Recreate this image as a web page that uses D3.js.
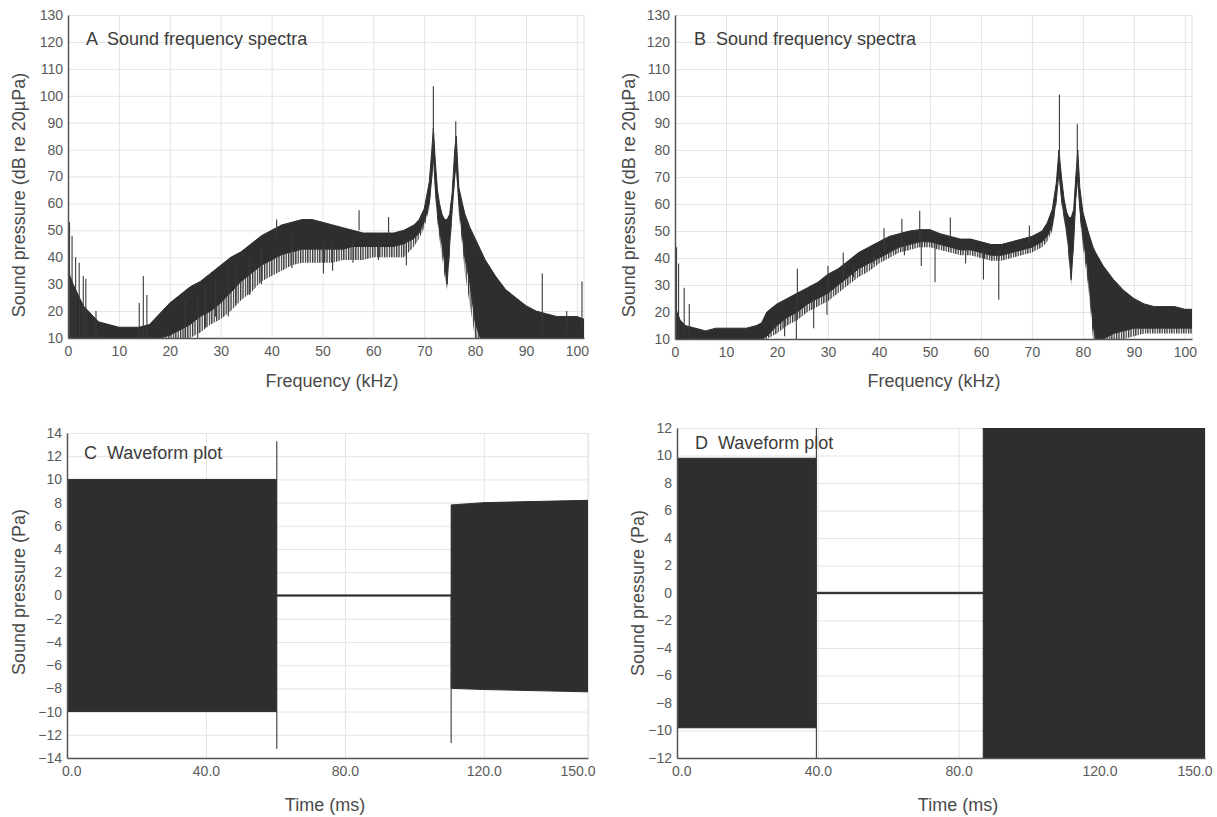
<!DOCTYPE html>
<html>
<head>
<meta charset="utf-8">
<script src="https://cdn.jsdelivr.net/npm/d3@7"></script>
<style>
  body { margin: 0; background: #fff; }
  text { font-family: "Liberation Sans", Arial, sans-serif; }
</style>
</head>
<body>
<svg width="1217" height="817"></svg>
<script>
// ---- data ----
// spectrum A: band envelope (dB re 20µPa); floor = lowest reach of the noisy grass
const specAFreq  = [0, 1, 2, 3, 4, 5, 6, 8, 10, 12, 14, 16, 18, 20, 22, 24, 26, 28, 30, 32, 34, 36, 38, 40, 42, 44, 46, 48, 50, 52, 54, 56, 58, 60, 62, 64, 66, 68, 69, 70, 71, 71.5, 71.8, 72.2, 72.6, 73, 73.5, 74, 74.5, 75, 75.5, 76, 76.3, 76.8, 77.5, 78, 79, 80, 81, 82, 84, 86, 88, 90, 92, 94, 96, 98, 100, 101.4];
const specAUpper = [35, 30, 26, 22, 20, 18, 16, 15, 14, 14, 14, 15, 19, 23, 26, 29, 31, 34, 37, 40, 42, 45, 48, 50, 52, 53, 54, 54, 53, 52, 51, 50, 49, 49, 49, 49, 50, 52, 54, 58, 68, 80, 88, 75, 65, 60, 56, 54, 54, 56, 64, 80, 85, 66, 60, 56, 51, 47, 43, 39, 33, 28, 25, 22, 20, 19, 18, 18, 18, 17];
const specALower = [10, 10, 10, 10, 10, 10, 10, 10, 10, 10, 10, 10, 10, 11, 13, 15, 18, 20, 23, 27, 31, 34, 37, 39, 41, 42, 43, 43, 43, 43, 43, 44, 44, 44, 44, 44, 45, 47, 49, 53, 60, 70, 78, 65, 56, 50, 45, 38, 30, 45, 58, 70, 75, 60, 48, 40, 30, 16, 10, 10, 10, 10, 10, 10, 10, 10, 10, 10, 10, 10];
const specAFloor = [10, 10, 10, 10, 10, 10, 10, 10, 10, 10, 10, 10, 10, 10, 10, 10, 12, 15, 17, 20, 24, 27, 31, 33, 35, 37, 38, 38, 38, 38, 39, 39, 39, 40, 40, 40, 40, 44, 47, 51, 58, 68, 76, 62, 53, 47, 40, 33, 28, 40, 55, 68, 72, 56, 44, 34, 22, 10, 10, 10, 10, 10, 10, 10, 10, 10, 10, 10, 10, 10];
// spectrum A: thin spikes (freq, low end, high end)
const specASpikeFreq = [0.3, 0.8, 1.5, 2.2, 3, 3.5, 5.5, 14, 14.8, 15.5, 41, 57.2, 63, 71.8, 76.2, 93.2, 98, 101, 23, 25.5, 27, 29, 31.5, 33, 35.7, 38, 44, 50.2, 52, 56, 61, 66.5];
const specASpikeLow  = [10, 10, 10, 10, 10, 10, 10, 10, 10, 10, 48, 50, 48, 80, 75, 12, 12, 12, 10, 10, 14, 18, 18, 23, 26, 30, 36, 34, 35, 38, 39, 37];
const specASpikeHigh = [53, 48, 40, 38, 33, 32, 20, 23, 33, 26, 54, 57.5, 55, 103.5, 90.5, 34, 20, 31, 24, 25, 30, 32, 36, 38, 40, 43, 48, 45, 45, 46, 46, 47];

// spectrum B
const specBFreq  = [0, 1, 2, 4, 6, 8, 10, 12, 14, 16, 17, 18, 20, 22, 24, 26, 28, 30, 32, 34, 36, 38, 40, 42, 44, 46, 48, 50, 52, 54, 56, 58, 60, 62, 64, 66, 68, 70, 72, 73, 74, 74.8, 75.3, 75.8, 76.3, 76.8, 77.3, 77.7, 78.2, 78.6, 79, 79.4, 80, 81, 82, 82.5, 84, 86, 88, 90, 92, 94, 96, 98, 100, 101.4];
const specBUpper = [22, 17, 15, 14, 13, 14, 14, 14, 14, 15, 16, 20, 23, 25, 27, 29, 31, 34, 36, 39, 42, 44, 46, 48, 49, 50, 50.5, 50.5, 49, 48, 47, 47, 46, 45, 45, 46, 47, 48, 50, 53, 58, 68, 80, 70, 62, 57, 55, 55, 58, 70, 80, 66, 57, 50, 44, 42, 37, 32, 28, 25, 23, 22, 22, 22, 21, 21];
const specBLower = [10, 10, 10, 10, 10, 10, 10, 10, 10, 10, 10, 11, 15, 18, 20, 23, 25, 27, 30, 33, 36, 38, 40, 42, 44, 45, 46, 46, 45, 44, 43, 43, 42, 41, 41, 42, 43, 44, 46, 48, 52, 62, 72, 62, 56, 50, 42, 32, 46, 62, 70, 58, 48, 35, 15, 10, 10, 12, 13, 14, 14, 14, 14, 14, 14, 14];
const specBFloor = [10, 10, 10, 10, 10, 10, 10, 10, 10, 10, 10, 10, 12, 15, 17, 20, 22, 24, 27, 30, 33, 35, 38, 40, 42, 43, 44, 44, 43, 42, 41, 41, 40, 39, 39, 40, 41, 42, 44, 46, 50, 60, 70, 60, 54, 48, 38, 30, 44, 60, 68, 55, 44, 30, 10, 10, 10, 10, 10, 11, 12, 12, 12, 12, 12, 12];
const specBSpikeFreq = [0.3, 0.7, 1.8, 2.8, 24, 30, 33, 41, 44.5, 48, 54, 69.5, 75.4, 78.9, 21.5, 23.8, 27.2, 29.8, 35, 39, 45, 48.3, 51, 57, 60.5, 63.5];
const specBSpikeLow  = [10, 10, 10, 10, 22, 28, 32, 42, 45, 47, 45, 45, 72, 70, 11, 10, 14, 19, 33, 38, 41, 37, 31, 38, 32, 24.5];
const specBSpikeHigh = [44, 38, 29, 23, 36, 37, 42, 51, 54.5, 57.5, 55, 52, 100.5, 89.5, 18, 22, 26, 30, 38, 41, 46, 48, 47, 45, 44, 43];

// waveform C (Pa)
const waveCTime  = [0, 60.3, 60.3, 110.6, 110.6, 120, 150];
const waveCUpper = [10, 10, 0.05, 0.05, 7.8, 8.0, 8.2];
const waveCLower = [-10, -10, -0.05, -0.05, -8.0, -8.1, -8.3];
const waveCSpikeTime = [60.4, 110.6];
const waveCSpikeLow  = [-13.2, -12.7];
const waveCSpikeHigh = [13.3, 0];

// waveform D (Pa)
const waveDTime  = [0, 39.6, 39.6, 87, 87, 150];
const waveDUpper = [9.8, 9.8, 0.05, 0.05, 12, 12];
const waveDLower = [-9.8, -9.8, -0.05, -0.05, -12, -12];
const waveDSpikeTime = [39.6];
const waveDSpikeLow  = [-12];
const waveDSpikeHigh = [12];

// tick labels
const specXTicks = d3.range(0, 101, 10);
const specYTicks = d3.range(10, 131, 10);
const waveXTicks = [0, 40, 80, 120, 150];
const waveCYTicks = d3.range(-14, 15, 2);
const waveDYTicks = d3.range(-12, 13, 2);

// ---- drawing ----
const svg = d3.select("svg");
const ink = "#2e2e2e";

// vertical hairline texture for the noisy lower fringe of the spectra
svg.append("defs").append("pattern")
    .attr("id", "grass")
    .attr("patternUnits", "userSpaceOnUse")
    .attr("width", 2.4).attr("height", 6)
  .append("rect")
    .attr("width", 1.3).attr("height", 6)
    .attr("fill", "#333");

const panels = [
  {id: "A", title: "A  Sound frequency spectra", xl: "Frequency (kHz)", yl: "Sound pressure (dB re 20µPa)",
   xr: [68, 584], yr: [338, 15], xd: [0, 101.4], yd: [10, 130], xt: specXTicks, yt: specYTicks, xf: d3.format("d"),
   x: specAFreq, hi: specAUpper, lo: specALower, fl: specAFloor, sx: specASpikeFreq, sl: specASpikeLow, sh: specASpikeHigh,
   tx: 86, ty: 45, xlx: 332, xly: 387, ylx: 25, yly: 195},
  {id: "B", title: "B  Sound frequency spectra", xl: "Frequency (kHz)", yl: "Sound pressure (dB re 20µPa)",
   xr: [675, 1192], yr: [339, 15], xd: [0, 101.4], yd: [10, 130], xt: specXTicks, yt: specYTicks, xf: d3.format("d"),
   x: specBFreq, hi: specBUpper, lo: specBLower, fl: specBFloor, sx: specBSpikeFreq, sl: specBSpikeLow, sh: specBSpikeHigh,
   tx: 694, ty: 45, xlx: 934, xly: 387, ylx: 635, yly: 195},
  {id: "C", title: "C  Waveform plot", xl: "Time (ms)", yl: "Sound pressure (Pa)",
   xr: [67, 588], yr: [758, 433], xd: [0, 150], yd: [-14, 14], xt: waveXTicks, yt: waveCYTicks, xf: d3.format(".1f"),
   x: waveCTime, hi: waveCUpper, lo: waveCLower, fl: null, sx: waveCSpikeTime, sl: waveCSpikeLow, sh: waveCSpikeHigh,
   tx: 84, ty: 459, xlx: 325, xly: 811, ylx: 25, yly: 592},
  {id: "D", title: "D  Waveform plot", xl: "Time (ms)", yl: "Sound pressure (Pa)",
   xr: [677, 1205], yr: [758, 428], xd: [0, 150], yd: [-12, 12], xt: waveXTicks, yt: waveDYTicks, xf: d3.format(".1f"),
   x: waveDTime, hi: waveDUpper, lo: waveDLower, fl: null, sx: waveDSpikeTime, sl: waveDSpikeLow, sh: waveDSpikeHigh,
   tx: 695, ty: 449, xlx: 958, xly: 811, ylx: 644, yly: 593}
];

panels.forEach(p => {
  const xScale = d3.scaleLinear().domain(p.xd).range(p.xr);
  const yScale = d3.scaleLinear().domain(p.yd).range(p.yr);
  const g = svg.append("g");

  // grid
  g.append("g")
    .attr("transform", `translate(0, ${p.yr[0]})`)
    .call(d3.axisBottom(xScale).tickValues(p.xt).tickSize(-(p.yr[0] - p.yr[1])).tickFormat(""))
    .call(a => a.selectAll("line").attr("stroke", "#e4e4e4"))
    .call(a => a.select(".domain").remove());
  g.append("g")
    .attr("transform", `translate(${p.xr[0]}, 0)`)
    .call(d3.axisLeft(yScale).tickValues(p.yt).tickSize(-(p.xr[1] - p.xr[0])).tickFormat(""))
    .call(a => a.selectAll("line").attr("stroke", "#e4e4e4"))
    .call(a => a.select(".domain").remove());
  g.append("line")
    .attr("x1", p.xr[1]).attr("x2", p.xr[1]).attr("y1", p.yr[0]).attr("y2", p.yr[1])
    .attr("stroke", "#e4e4e4");

  // data
  g.append("clipPath").attr("id", "clip" + p.id)
    .append("rect")
      .attr("x", p.xr[0]).attr("y", p.yr[1])
      .attr("width", p.xr[1] - p.xr[0]).attr("height", p.yr[0] - p.yr[1]);
  const dg = g.append("g").attr("clip-path", `url(#clip${p.id})`);

  if (p.fl) {
    const grass = d3.area()
      .x((d, i) => xScale(p.x[i]))
      .y0((d, i) => yScale(p.fl[i]))
      .y1((d, i) => yScale(p.lo[i]));
    dg.append("path")
      .attr("d", grass(p.x))
      .attr("fill", "url(#grass)");
  }

  const area = d3.area()
    .x((d, i) => xScale(p.x[i]))
    .y0((d, i) => yScale(p.lo[i]))
    .y1((d, i) => yScale(p.hi[i]));
  dg.append("path")
    .attr("d", area(p.x))
    .attr("fill", ink)
    .attr("stroke", ink)
    .attr("stroke-width", 1)
    .attr("stroke-linejoin", "round");

  dg.selectAll("line.spike").data(p.sx)
    .enter().append("line")
      .attr("class", "spike")
      .attr("x1", d => xScale(d)).attr("x2", d => xScale(d))
      .attr("y1", (d, i) => yScale(p.sl[i]))
      .attr("y2", (d, i) => yScale(p.sh[i]))
      .attr("stroke", "#3a3a3a")
      .attr("stroke-width", 1.1);

  // axes
  const xAxis = g.append("g")
    .attr("transform", `translate(0, ${p.yr[0]})`)
    .call(d3.axisBottom(xScale).tickValues(p.xt).tickFormat(p.xf).tickSize(0).tickPadding(8));
  const yAxis = g.append("g")
    .attr("transform", `translate(${p.xr[0]}, 0)`)
    .call(d3.axisLeft(yScale).tickValues(p.yt).tickSize(0).tickPadding(5));
  [xAxis, yAxis].forEach(a => {
    a.select(".domain").attr("stroke", "#555").attr("stroke-width", 1.5);
    a.selectAll("text").attr("fill", "#5a5a5a").style("font-size", "14px");
  });
  // last time label sits left of the plot corner in the reference
  if (p.xd[1] === 150) {
    xAxis.selectAll(".tick text")
      .filter(d => d === 150)
      .attr("text-anchor", "end")
      .attr("dx", "0.5em");
    xAxis.selectAll(".tick text")
      .filter(d => d === 0)
      .attr("dx", "0.3em");
  }

  // labels
  g.append("text")
    .attr("x", p.tx).attr("y", p.ty)
    .attr("fill", "#3c3c3c")
    .style("font-size", "18px")
    .style("white-space", "pre")
    .text(p.title);
  g.append("text")
    .attr("x", p.xlx).attr("y", p.xly)
    .attr("text-anchor", "middle")
    .attr("fill", "#4a4a4a")
    .style("font-size", "18px")
    .text(p.xl);
  g.append("text")
    .attr("transform", `translate(${p.ylx}, ${p.yly}) rotate(-90)`)
    .attr("text-anchor", "middle")
    .attr("fill", "#4a4a4a")
    .style("font-size", "18px")
    .text(p.yl);
});
</script>
</body>
</html>
